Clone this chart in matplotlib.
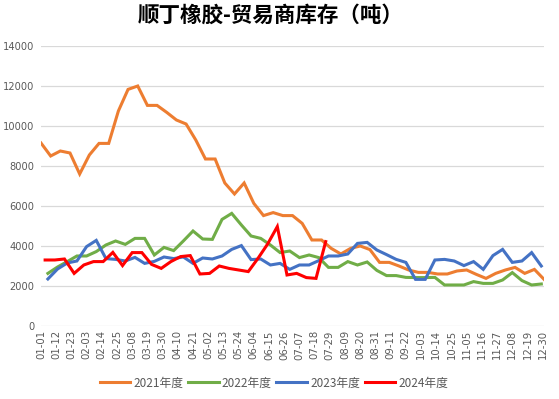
import datetime as dt
import numpy as np
import matplotlib
matplotlib.use("Agg")
import matplotlib.pyplot as plt

# weekly trader inventory (tons)
orange_2021 = [9150, 8500, 8750, 8650, 7600, 8550, 9130, 9130, 10750, 11830,
               12000, 11030, 11030, 10680, 10300, 10100, 9300, 8350, 8350, 7150,
               6600, 7150, 6130, 5520, 5670, 5520, 5520, 5130, 4300, 4300,
               3880, 3600, 3880, 4000, 3820, 3180, 3180, 3000, 2800, 2680,
               2680, 2600, 2600, 2750, 2800, 2580, 2380, 2630, 2800, 2930,
               2630, 2830, 2330]
green_2022 = [2630, 2950, 3220, 3500, 3500, 3720, 4050, 4250, 4080, 4380,
              4380, 3550, 3930, 3770, 4250, 4750, 4350, 4330, 5330, 5630,
              5050, 4500, 4380, 4050, 3670, 3750, 3420, 3550, 3420, 2930,
              2930, 3220, 3050, 3200, 2780, 2520, 2520, 2430, 2420, 2420,
              2430, 2050, 2050, 2050, 2220, 2130, 2130, 2300, 2670, 2270,
              2050, 2100]
blue_2023 = [2350, 2850, 3150, 3250, 3970, 4280, 3370, 3330, 3250, 3430,
             3130, 3230, 3450, 3370, 3450, 3130, 3400, 3350, 3500, 3830,
             4020, 3320, 3350, 3050, 3130, 2830, 3050, 3050, 3270, 3500,
             3500, 3600, 4130, 4180, 3800, 3570, 3330, 3180, 2330, 2330,
             3300, 3330, 3250, 3020, 3220, 2830, 3520, 3830, 3180, 3250,
             3670, 3000]
red_2024 = [3300, 3300, 3350, 2630, 3050, 3220, 3220, 3680, 3020, 3670,
            3670, 3080, 2880, 3220, 3470, 3520, 2600, 2630, 3000, 2880,
            2800, 2720, 3380, 4100, 4970, 2550, 2630, 2420, 2380, 4220]

series_names = ['2021年度', '2022年度', '2023年度', '2024年度']
series_start_day = [0, 5, 5, 3]   # first weekly reading, day of year
series_colors = ['#ED7D31', '#70AD47', '#4472C4', '#FF0000']

plt.rcParams['font.family'] = ['Noto Sans CJK SC', 'DejaVu Sans']

fig = plt.figure(figsize=(5.59, 3.99), dpi=100)
ax = fig.add_axes([0.0733, 0.183, 0.9, 0.7017])

all_series = [orange_2021, green_2022, blue_2023, red_2024]
for vals, name, start, col in zip(all_series, series_names, series_start_day, series_colors):
    days = start + 7 * np.arange(len(vals))
    ax.plot(days, vals, color=col, lw=2.2, label=name, solid_joinstyle='miter')

# date axis: ticks every 11 days, labelled mm-dd
tick_days = np.arange(0, 364, 11)
base = dt.date(2021, 1, 1)
tick_labels = [(base + dt.timedelta(days=int(d))).strftime('%m-%d') for d in tick_days]
ax.set_xticks(tick_days)
ax.set_xticklabels(tick_labels, rotation=90, fontsize=7.3, color='#595959',
                   family='DejaVu Sans')
ax.set_xlim(0, 364)

ax.set_ylim(0, 14000)
ax.set_yticks(np.arange(0, 14001, 2000))
ax.tick_params(axis='y', labelsize=7.1, labelcolor='#595959', length=0, pad=4.5)
ax.tick_params(axis='x', length=0, pad=3)
for lbl in ax.get_yticklabels():
    lbl.set_family('DejaVu Sans')

ax.grid(axis='y', color='#d9d9d9', lw=0.9)
ax.set_axisbelow(True)
for s in ax.spines.values():
    s.set_visible(False)

fig.text(0.485, 0.963, '顺丁橡胶-贸易商库存（吨）', ha='center', va='center',
         fontsize=15.5, fontweight='bold')

fig.legend(loc='center', bbox_to_anchor=(0.49, 0.04), ncol=4, frameon=False,
           fontsize=8.5, handlelength=2.6, handletextpad=0.25, columnspacing=0.4,
           labelcolor='#595959')

fig.savefig('out.png', dpi=100)
